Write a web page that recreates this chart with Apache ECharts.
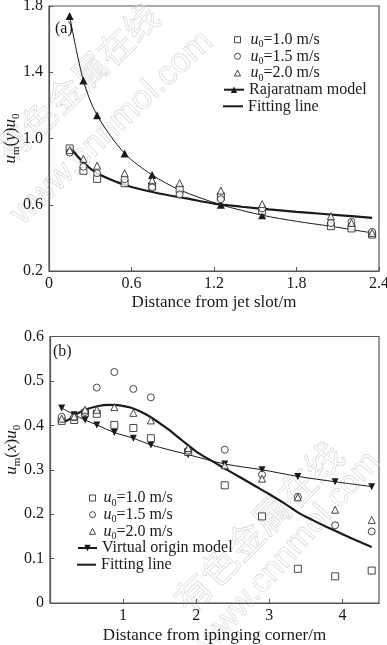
<!DOCTYPE html>
<html><head><meta charset="utf-8">
<script src="https://cdn.jsdelivr.net/npm/echarts@6/dist/echarts.min.js"></script>
<style>html,body{margin:0;padding:0;background:#fff}#c{width:387px;height:645px}</style>
</head><body><div id="c"></div>
<script>
// ---------- Panel (a) ----------
const xA = [0.15, 0.25, 0.35, 0.55, 0.75, 0.95, 1.25, 1.55, 2.05, 2.2, 2.35];
const a_u10 = [0.94, 0.805, 0.756, 0.73, 0.712, 0.693, 0.649, 0.564, 0.471, 0.457, 0.42];
const a_u15 = [0.915, 0.83, 0.79, 0.754, 0.705, 0.662, 0.633, 0.578, 0.49, 0.497, 0.436];
const a_u20 = [0.93, 0.877, 0.836, 0.79, 0.748, 0.73, 0.685, 0.604, 0.531, 0.49, 0.43];
const a_rajX = [0.15, 0.25, 0.35, 0.55, 0.75, 0.95, 1.25, 1.55, 1.8, 2.05, 2.2, 2.35];
const a_rajY = [1.74, 1.35, 1.14, 0.91, 0.78, 0.69, 0.60, 0.537, 0.50, 0.47, 0.45, 0.43];
const a_rajMark = [1, 1, 1, 1, 1, 0, 1, 1, 0, 0, 0, 0];
const a_fitX = [0.15, 0.25, 0.35, 0.5, 0.6, 0.8, 1.0, 1.2, 1.4, 1.6, 1.8, 2.0, 2.2, 2.35];
const a_fitY = [0.95, 0.855, 0.79, 0.735, 0.707, 0.668, 0.638, 0.607, 0.588, 0.572, 0.557, 0.544, 0.531, 0.521];
const a_xTicks = [0, 0.6, 1.2, 1.8, 2.4];
const a_xLabels = ['0', '0.6', '1.2', '1.8', '2.4'];
const a_yTicks = [0.2, 0.6, 1.0, 1.4, 1.8];
const a_yLabels = ['0.2', '0.6', '1.0', '1.4', '1.8'];

// ---------- Panel (b) ----------
const xB = [0.16, 0.33, 0.48, 0.64, 0.88, 1.14, 1.38, 1.89, 2.39, 2.9, 3.39, 3.9, 4.4];
const b_u10 = [0.41, 0.412, 0.428, 0.426, 0.401, 0.394, 0.371, 0.34, 0.265, 0.195, 0.077, 0.06, 0.073];
const b_u15 = [0.419, 0.418, 0.43, 0.485, 0.52, 0.482, 0.463, 0.343, 0.345, 0.289, 0.239, 0.175, 0.161];
const b_u20 = [0.415, 0.42, 0.435, 0.435, 0.441, 0.428, 0.411, 0.349, 0.31, 0.28, 0.238, 0.21, 0.187];
const b_virt = [0.439, 0.424, 0.412, 0.401, 0.384, 0.371, 0.356, 0.334, 0.313, 0.30, 0.285, 0.273, 0.262];
const b_fitX = [0.16, 0.25, 0.35, 0.5, 0.65, 0.8, 0.95, 1.1, 1.25, 1.4, 1.6, 1.8, 2.0, 2.2, 2.4, 2.6, 2.8, 3.0, 3.2, 3.4, 3.6, 3.8, 4.0, 4.2, 4.4];
const b_fitY = [0.408, 0.412, 0.424, 0.436, 0.443, 0.446, 0.445, 0.44, 0.43, 0.416, 0.393, 0.367, 0.341, 0.321, 0.302, 0.283, 0.264, 0.245, 0.225, 0.203, 0.186, 0.17, 0.155, 0.14, 0.126];
const b_xTicks = [1, 2, 3, 4];
const b_xLabels = ['1', '2', '3', '4'];
const b_yTicks = [0, 0.1, 0.2, 0.3, 0.4, 0.5, 0.6];
const b_yLabels = ['0', '0.1', '0.2', '0.3', '0.4', '0.5', '0.6'];

// ---------- Text ----------
const legendText = {
  a10: '{sp|}{i|u}{s|0}{n|=1.0 m/s}', a15: '{sp|}{i|u}{s|0}{n|=1.5 m/s}', a20: '{sp|}{i|u}{s|0}{n|=2.0 m/s}',
  aRaj: '{n|Rajaratnam model}', aFit: '{n|Fitting line}',
  b10: '{sp2|}{i|u}{s|0}{n|=1.0 m/s}', b15: '{sp2|}{i|u}{s|0}{n|=1.5 m/s}', b20: '{sp2|}{i|u}{s|0}{n|=2.0 m/s}',
  bVirt: '{n|Virtual origin model}', bFit: '{n|Fitting line}'
};
const yNameA = '{i|u}{s|m}{n|(}{i|y}{n|)}{i|u}{s|0}';
const yNameB = '{i|u}{s|m}{n|(}{i|x}{n|)}{i|u}{s|0}';
const xNameA = 'Distance from jet slot/m';
const xNameB = 'Distance from ipinging corner/m';

const SERIF = '"Liberation Serif","Times New Roman",serif';
const INK = '#1a1a1a';
const AX = '#555';
const rich = {
  i: {fontFamily: SERIF, fontStyle: 'italic', fontSize: 16, lineHeight: 20, color: INK, verticalAlign: 'middle'},
  n: {fontFamily: SERIF, fontSize: 16, lineHeight: 20, color: INK, verticalAlign: 'middle'},
  s: {fontFamily: SERIF, fontSize: 10, lineHeight: 10, color: INK, verticalAlign: 'bottom'},
  sp: {width: 5}, sp2: {width: 3}
};
const richName = {
  i: {fontFamily: SERIF, fontStyle: 'italic', fontSize: 17, lineHeight: 22, color: INK, verticalAlign: 'middle'},
  n: {fontFamily: SERIF, fontSize: 17, lineHeight: 22, color: INK, verticalAlign: 'middle'},
  s: {fontFamily: SERIF, fontSize: 11, lineHeight: 11, color: INK, verticalAlign: 'bottom'}
};

const zip = (xs, ys) => xs.map((x, i) => [x, ys[i]]);
const hollow = {color: '#fff', borderColor: INK, borderWidth: 1};

function xAxisCfg(gi, max, ticks, labels, name, gap) {
  return {
    type: 'value', gridIndex: gi, min: 0, max: max,
    name: name, nameLocation: 'middle', nameGap: gap, nameMoveOverlap: false,
    nameTextStyle: {fontFamily: SERIF, fontSize: 17, color: INK},
    axisLine: {show: true, lineStyle: {color: AX, width: 1.2}},
    axisTick: {show: true, inside: true, length: 4, lineStyle: {color: AX}, customValues: ticks},
    axisLabel: {show: true, margin: 5, fontFamily: SERIF, fontSize: 16, color: INK, customValues: ticks,
      formatter: v => labels[ticks.indexOf(v)] ?? ''},
    splitLine: {show: false}
  };
}
function yAxisCfg(gi, min, max, ticks, labels, name, pad) {
  return {
    type: 'value', gridIndex: gi, min: min, max: max,
    name: name, nameLocation: 'middle', nameGap: 27, nameRotate: 90, nameMoveOverlap: false,
    nameTextStyle: {rich: richName, padding: pad},
    axisLine: {show: true, lineStyle: {color: AX, width: 1.2}},
    axisTick: {show: true, inside: true, length: 4, lineStyle: {color: AX}, customValues: ticks},
    axisLabel: {show: true, margin: 6, fontFamily: SERIF, fontSize: 16, color: INK, customValues: ticks,
      formatter: v => labels[ticks.indexOf(v)] ?? ''},
    splitLine: {show: false}
  };
}
function legendRow(name, left, centerY, w, h, itemStyle, icon) {
  const d = icon ? {name: name, icon: icon} : name;
  return {
    show: true, data: [d], left: left, top: centerY - 10, padding: 0, itemGap: 0,
    selectedMode: false, itemWidth: w, itemHeight: h, itemStyle: itemStyle,
    formatter: n => legendText[n], textStyle: {rich: rich}
  };
}

const series = [
  {name: 'aFit', type: 'line', xAxisIndex: 0, yAxisIndex: 0, data: zip(a_fitX, a_fitY), smooth: 0.3,
    symbol: 'none', lineStyle: {color: INK, width: 2.2}, z: 3},
  {name: 'aRaj', type: 'line', xAxisIndex: 0, yAxisIndex: 0, smooth: 0.3, symbol: 'triangle', symbolSize: 8,
    data: a_rajX.map((x, i) => ({value: [x, a_rajY[i]], symbol: a_rajMark[i] ? 'triangle' : 'none'})),
    lineStyle: {color: INK, width: 1}, itemStyle: {color: INK}, z: 3},
  {name: 'a10', type: 'scatter', xAxisIndex: 0, yAxisIndex: 0, data: zip(xA, a_u10), symbol: 'rect', symbolSize: 7, itemStyle: hollow, z: 4},
  {name: 'a15', type: 'scatter', xAxisIndex: 0, yAxisIndex: 0, data: zip(xA, a_u15), symbol: 'circle', symbolSize: 7, itemStyle: hollow, z: 4},
  {name: 'a20', type: 'scatter', xAxisIndex: 0, yAxisIndex: 0, data: zip(xA, a_u20), symbol: 'triangle', symbolSize: 7, itemStyle: hollow, z: 4},

  {name: 'bFit', type: 'line', xAxisIndex: 1, yAxisIndex: 1, data: zip(b_fitX, b_fitY), smooth: 0.3,
    symbol: 'none', lineStyle: {color: INK, width: 2.2}, z: 3},
  {name: 'bVirt', type: 'line', xAxisIndex: 1, yAxisIndex: 1, data: zip(xB, b_virt), smooth: 0.3,
    symbol: 'triangle', symbolRotate: 180, symbolSize: 7, lineStyle: {color: INK, width: 1}, itemStyle: {color: INK}, z: 3},
  {name: 'b10', type: 'scatter', xAxisIndex: 1, yAxisIndex: 1, data: zip(xB, b_u10), symbol: 'rect', symbolSize: 7, itemStyle: hollow, z: 4},
  {name: 'b15', type: 'scatter', xAxisIndex: 1, yAxisIndex: 1, data: zip(xB, b_u15), symbol: 'circle', symbolSize: 7, itemStyle: hollow, z: 4},
  {name: 'b20', type: 'scatter', xAxisIndex: 1, yAxisIndex: 1, data: zip(xB, b_u20), symbol: 'triangle', symbolSize: 7, itemStyle: hollow, z: 4}
];

const wmStyle = (txt, font) => ({text: txt, font: font, fill: 'rgba(0,0,0,0)', stroke: '#d2d2d2', lineWidth: 0.6, textVerticalAlign: 'middle'});

const option = {
  animation: false,
  backgroundColor: '#fff',
  grid: [
    {left: 49, top: 6, width: 330, height: 265, show: true, borderColor: AX, borderWidth: 1.2, outerBoundsMode: 'none', containLabel: false},
    {left: 50, top: 336.5, width: 329, height: 266.5, show: true, borderColor: AX, borderWidth: 1.2, outerBoundsMode: 'none', containLabel: false}
  ],
  xAxis: [
    xAxisCfg(0, 2.4, a_xTicks, a_xLabels, xNameA, 23),
    xAxisCfg(1, 4.5, b_xTicks, b_xLabels, xNameB, 24)
  ],
  yAxis: [
    yAxisCfg(0, 0.2, 1.8, a_yTicks, a_yLabels, yNameA, [0, 0, 0, 0]),
    yAxisCfg(1, 0, 0.6, b_yTicks, b_yLabels, yNameB, [0, 0, 0, 40])
  ],
  legend: [
    legendRow('a10', 234, 41.7, 6, 6, hollow),
    legendRow('a15', 234, 58.3, 6, 6, hollow),
    legendRow('a20', 234, 75, 6, 6, hollow),
    legendRow('aRaj', 223, 91.7, 20, 8, {color: INK, borderWidth: 0}),
    legendRow('aFit', 223, 108.3, 20, 2, {color: INK, borderWidth: 0}, 'rect'),
    legendRow('b10', 89, 500, 6, 6, hollow),
    legendRow('b15', 89, 516.7, 6, 6, hollow),
    legendRow('b20', 89, 533.3, 6, 6, hollow),
    legendRow('bVirt', 77, 550, 19, 8, {color: INK, borderWidth: 0}),
    legendRow('bFit', 77, 566.7, 19, 2, {color: INK, borderWidth: 0}, 'rect')
  ],
  graphic: [
    {type: 'text', x: 1, y: 155, rotation: 0.76, z: 0, silent: true, style: wmStyle('有色金属在线', '35px "Noto Sans CJK SC"')},
    {type: 'text', x: 16, y: 219, rotation: 0.76, z: 0, silent: true, style: wmStyle('www.cnnmol.com', '34px "Liberation Sans"')},
    {type: 'text', x: 180, y: 606, rotation: 0.79, z: 0, silent: true, style: wmStyle('有色金属在线', '37px "Noto Sans CJK SC"')},
    {type: 'text', x: 203, y: 648, rotation: 0.84, z: 0, silent: true, style: wmStyle('www.cnnmol.com', '33px "Liberation Sans"')},
    {type: 'text', x: 55, y: 29, z: 10, silent: true, style: {text: '(a)', font: '16px ' + SERIF, fill: INK, textVerticalAlign: 'middle'}},
    {type: 'text', x: 53, y: 352, z: 10, silent: true, style: {text: '(b)', font: '16px ' + SERIF, fill: INK, textVerticalAlign: 'middle'}}
  ],
  series: series
};

const chart = echarts.init(document.getElementById('c'), null, {renderer: 'canvas'});
chart.setOption(option);
</script>
</body></html>
